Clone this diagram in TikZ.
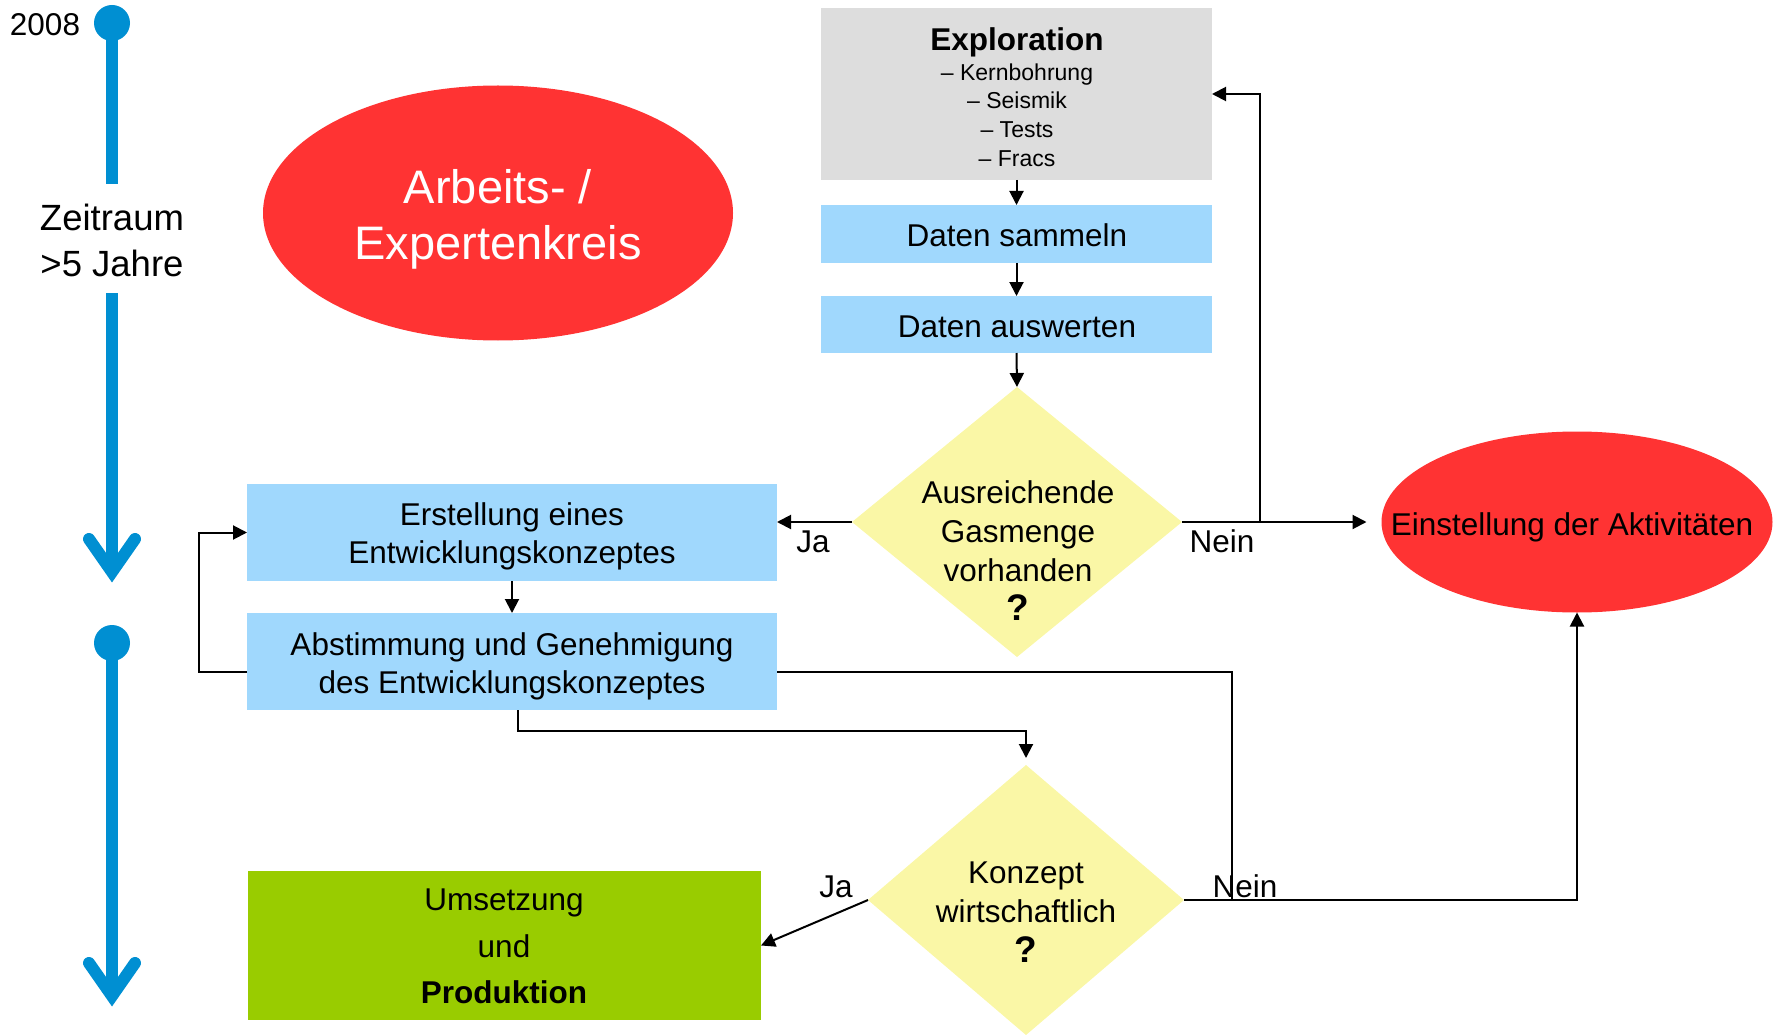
\documentclass[tikz,border=0pt]{standalone}
\usepackage{fontspec}
\setmainfont{Liberation Sans}
\usetikzlibrary{arrows.meta,shapes.geometric}
\definecolor{expgray}{HTML}{DDDDDD}
\definecolor{boxblue}{HTML}{A0D8FD}
\definecolor{diayellow}{HTML}{FAF7A6}
\definecolor{prodgreen}{HTML}{99CC00}
\definecolor{alertred}{HTML}{FF3333}
\definecolor{timeblue}{HTML}{008FD2}
\newcommand{\bigq}{{\fontsize{37}{39}\selectfont\bfseries ?}}
\begin{document}
\begin{tikzpicture}[x=1pt,y=-1pt,
  every node/.style={inner sep=0pt,outer sep=0pt},
  txt/.style={font=\fontsize{31.5}{38}\selectfont,align=center},
  bigtxt/.style={font=\fontsize{47}{56}\selectfont,align=center,text=white},
  procbox/.style={fill=boxblue},
  decision/.style={diamond,fill=diayellow},
  redoval/.style={ellipse,fill=alertred},
  conn/.style={line width=2pt,-{Triangle[length=14pt,width=14pt]}},
  plainline/.style={line width=2pt},
  tline/.style={timeblue,line width=12pt},
  chev/.style={timeblue,line width=12pt,line cap=round,line join=miter},
  dot/.style={circle,fill=timeblue,minimum size=36pt}
]
\useasboundingbox (0,0) rectangle (1773,1035);

% timeline
\node[dot] (dotA) at (112,23) {};
\node[dot] (dotB) at (112,643) {};
\node[txt,anchor=base] (year) at (45,36) {2008};
\node[font=\fontsize{36.5}{46}\selectfont,align=center] (period) at (112,240) {Zeitraum\\>5 Jahre};
\coordinate (tA1) at (112,184);
\coordinate (tA2) at (112,293);
\coordinate (tAtip) at (112,572);
\coordinate (tBtip) at (112,996);
\draw[tline] (dotA.center) -- (tA1);
\draw[tline] (tA2) -- (tAtip);
\draw[chev] (89,539) -- (tAtip) -- (135,539);
\draw[tline] (dotB.center) -- (tBtip);
\draw[chev] (89,963) -- (tBtip) -- (135,963);

% shapes
\node[fill=expgray,minimum width=391pt,minimum height=172pt] (expl) at (1016.5,94) {};
\node[font=\bfseries\fontsize{31.5}{38}\selectfont,anchor=base] (expltitle) at (1017,51) {Exploration};
\node[font=\fontsize{23}{28.7}\selectfont,align=center] (expllist) at (1017,115) {– Kernbohrung\\– Seismik\\– Tests\\– Fracs};

\node[procbox,minimum width=391pt,minimum height=58pt] (sammeln) at (1016.5,234) {};
\node[txt,anchor=base] (sammelntxt) at (1017,247) {Daten sammeln};
\node[procbox,minimum width=391pt,minimum height=57pt] (auswerten) at (1016.5,324.5) {};
\node[txt,anchor=base] (auswertentxt) at (1017,337) {Daten auswerten};

\node[decision,minimum width=330pt,minimum height=270pt] (gas) at (1017,522) {};
\node[txt,font=\fontsize{31.5}{39}\selectfont] (gastxt) at (1018,551) {Ausreichende\\Gasmenge\\vorhanden\\\bigq};

\node[redoval,minimum width=470pt,minimum height=255pt] (ak) at (498,213) {};
\node[bigtxt] (aktxt) at (498,219) {Arbeits- /\\Expertenkreis};

\node[redoval,minimum width=391pt,minimum height=181pt] (stop) at (1577,522) {};
\node[txt,anchor=base] (stoptxt) at (1572,535) {Einstellung der Aktivitäten};

\node[procbox,minimum width=530pt,minimum height=97pt] (erst) at (512,532.5) {};
\node[txt] (ersttxt) at (512,536) {Erstellung eines\\Entwicklungskonzeptes};
\node[procbox,minimum width=530pt,minimum height=97pt] (abst) at (512,661.5) {};
\node[txt] (absttxt) at (512,666) {Abstimmung und Genehmigung\\des Entwicklungskonzeptes};

\node[decision,minimum width=316pt,minimum height=270pt] (konz) at (1026,900) {};
\node[txt,font=\fontsize{31.5}{39.5}\selectfont] (konztxt) at (1026,912) {Konzept\\wirtschaftlich\\\bigq};

\node[fill=prodgreen,minimum width=513pt,minimum height=149pt] (prod) at (504.5,945.5) {};
\node[txt,font=\fontsize{31.5}{46.5}\selectfont] (prodtxt) at (504,946.5) {Umsetzung\\und\\\textbf{Produktion}};

% labels
\node[txt,anchor=base] (ja1) at (813,552) {Ja};
\node[txt,anchor=base] (nein1) at (1222,552) {Nein};
\node[txt,anchor=base] (ja2) at (836,897) {Ja};
\node[txt,anchor=base] (nein2) at (1245,897) {Nein};

% connectors
\coordinate (fb) at (1260,522);
\coordinate (merge) at (1232,900);
\draw[conn] (expl.south) -- (sammeln.north);
\draw[conn] (sammeln.south) -- (auswerten.north);
\draw[conn] (auswerten.south) -- (gas.north);
\draw[conn] (gas.west) -- (erst.east |- gas.west);
\draw[conn,shorten >=15pt] (gas.east) -- (stop.west);
\draw[conn] (fb) |- (expl.east);
\draw[conn] (erst.south) -- (abst.north);
\draw[conn] ([yshift=-10.5pt]abst.west) -- ++(-48,0) |- (erst.west);
\draw[plainline] ([yshift=-10.5pt]abst.east) -| (merge);
\draw[conn] ([xshift=6pt]abst.south) -- ++(0,21) -| ([yshift=7pt]konz.north);
\draw[conn] (konz.east) -| (stop.south);
\draw[conn] (konz.west) -- (prod.east);
\end{tikzpicture}
\end{document}
